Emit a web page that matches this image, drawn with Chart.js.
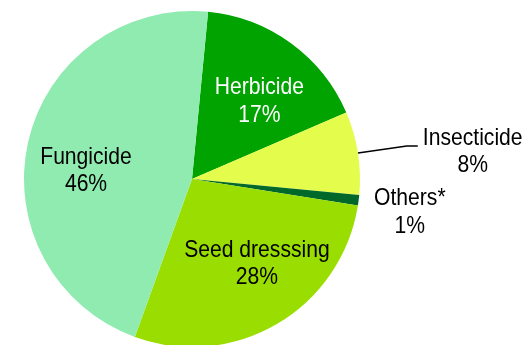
<!DOCTYPE html>
<html>
<head>
<meta charset="utf-8">
<script src="https://cdn.jsdelivr.net/npm/chart.js@4/dist/chart.umd.min.js"></script>
<style>
  html, body { margin: 0; padding: 0; background: #fff; overflow: hidden; }
  canvas { display: block; }
</style>
</head>
<body>
<canvas id="pie" width="527" height="360"></canvas>
<script>
// pesticide use by type, %
const categories = ['Herbicide', 'Insecticide', 'Others*', 'Seed dresssing', 'Fungicide'];
const shares = [17, 8, 1, 28, 46];
const colors = ['#00a300', '#e4fd4c', '#006828', '#99de00', '#8febb0'];

// label placement: angle shift from slice middle (deg), distance as fraction of radius
const labelAngleShift = [4.1, 2.9, 0.9, -7.7, -7.0];
const labelDist = [0.622, 1.68, 1.31, 0.625, 0.634];
const labelColor = ['#fff', '#000', '#000', '#000', '#000'];
const leaderLine = [false, true, false, false, false];

const FONT_PX = 24;
const SQUEEZE = 0.88;   // narrow the text a little
const LINE_GAP = 27.4;
const CAP_H = 17.6;

const sliceLabels = {
  id: 'sliceLabels',
  afterDatasetsDraw(chart) {
    const ctx = chart.ctx;
    const arcs = chart.getDatasetMeta(0).data;
    ctx.save();
    ctx.font = FONT_PX + 'px "Liberation Sans", Arial, sans-serif';
    ctx.textAlign = 'center';
    ctx.textBaseline = 'alphabetic';
    arcs.forEach((arc, i) => {
      const { x, y, startAngle, endAngle, outerRadius } = arc.getProps(['x', 'y', 'startAngle', 'endAngle', 'outerRadius'], true);
      const mid = (startAngle + endAngle) / 2;
      const a = mid + labelAngleShift[i] * Math.PI / 180;
      const r = outerRadius * labelDist[i];
      const ax = x + Math.cos(a) * r;
      const ay = y + Math.sin(a) * r;
      const base1 = ay + (CAP_H - LINE_GAP) / 2;
      const base2 = base1 + LINE_GAP;
      const lines = [categories[i], shares[i] + '%'];

      if (leaderLine[i]) {
        const w = ctx.measureText(lines[0]).width * SQUEEZE;
        const endX = ax - w / 2 - 5;
        const ly = base1 + 1.5;
        ctx.beginPath();
        ctx.moveTo(x + Math.cos(mid) * outerRadius, y + Math.sin(mid) * outerRadius);
        ctx.lineTo(endX - 11, ly);
        ctx.lineTo(endX, ly);
        ctx.strokeStyle = '#000';
        ctx.lineWidth = 1.5;
        ctx.stroke();
      }

      ctx.fillStyle = labelColor[i];
      [base1, base2].forEach((by, k) => {
        ctx.save();
        ctx.translate(ax, by);
        ctx.scale(SQUEEZE, 1);
        ctx.fillText(lines[k], 0, 0);
        ctx.restore();
      });
    });
    ctx.restore();
  }
};

new Chart(document.getElementById('pie'), {
  type: 'pie',
  data: {
    labels: categories,
    datasets: [{
      data: shares,
      backgroundColor: colors,
      borderWidth: 0,
      hoverOffset: 0
    }]
  },
  options: {
    responsive: false,
    animation: false,
    events: [],
    rotation: 5.5,
    layout: { padding: { left: 24, top: 11, right: 167, bottom: 13 } },
    plugins: {
      legend: { display: false },
      tooltip: { enabled: false }
    }
  },
  plugins: [sliceLabels]
});
</script>
</body>
</html>
